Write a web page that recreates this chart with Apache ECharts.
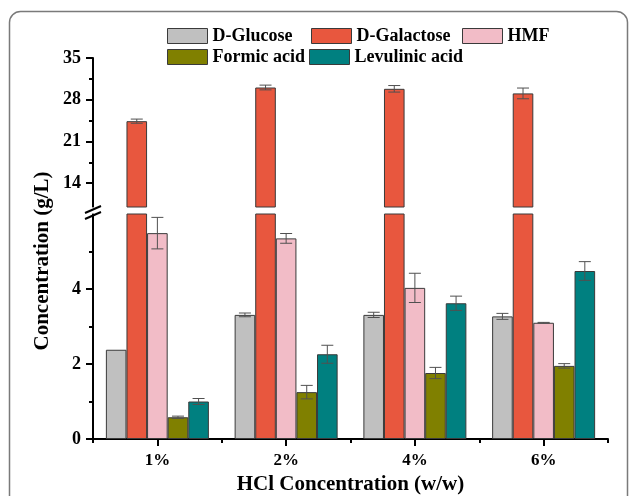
<!DOCTYPE html>
<html><head><meta charset="utf-8">
<script src="https://cdn.jsdelivr.net/npm/echarts@6/dist/echarts.min.js"></script>
<style>html,body{margin:0;padding:0;background:#fff}#c{width:630px;height:496px}</style>
</head><body><div id="c"></div>
<script>
// ---------- data ----------
const categories = ['1%', '2%', '4%', '6%'];
const seriesNames = ['D-Glucose', 'D-Galactose', 'HMF', 'Formic acid', 'Levulinic acid'];
const glucose      = [2.38, 3.31, 3.31, 3.27];
const glucoseErr   = [0, 0.05, 0.07, 0.08];
const galactose    = [24.4, 30.05, 29.83, 29.06];
const galactoseErr = [0.35, 0.4, 0.55, 0.9];
const hmf          = [5.49, 5.35, 4.03, 3.10];
const hmfErr       = [0.42, 0.13, 0.39, 0.01];
const formic       = [0.58, 1.25, 1.76, 1.95];
const formicErr    = [0.03, 0.18, 0.15, 0.06];
const levulinic    = [1.0, 2.26, 3.62, 4.48];
const levulinicErr = [0.08, 0.24, 0.19, 0.25];
const lowerTicks = [0, 2, 4];
const lowerMinorTicks = [1, 3, 5];
const upperTicks = [14, 21, 28, 35];
const upperMinorTicks = [17.5, 24.5, 31.5];
const xTitle = 'HCl Concentration (w/w)';
const yTitle = 'Concentration (g/L)';

// ---------- styling ----------
const values = [glucose, galactose, hmf, formic, levulinic];
const errors = [glucoseErr, galactoseErr, hmfErr, formicErr, levulinicErr];
const colors = ['#c0c0c0', '#e8573e', '#f2bcc7', '#808000', '#008080'];
const FONT = '"Liberation Serif", "Times New Roman", serif';
const CAT_GAP = 0.2;

const chart = echarts.init(document.getElementById('c'), null, {renderer: 'canvas'});

function errRender(idx) {
  return function (params, api) {
    const ci = api.value(0), v = api.value(1), e = api.value(2);
    if (!e) return null;
    const band = api.size([1, 0])[0];
    const groupW = band * (1 - CAT_GAP);
    const barW = groupW / 5;
    const c = api.coord([ci, v]);
    const x = c[0] - groupW / 2 + barW * (idx + 0.5);
    const hi = api.coord([ci, v + e])[1];
    const lo = api.coord([ci, v - e])[1];
    const cap = 6;
    const st = {stroke: '#505050', lineWidth: 1};
    return {type: 'group', children: [
      {type: 'line', shape: {x1: x, y1: hi, x2: x, y2: lo}, style: st},
      {type: 'line', shape: {x1: x - cap, y1: hi, x2: x + cap, y2: hi}, style: st},
      {type: 'line', shape: {x1: x - cap, y1: lo, x2: x + cap, y2: lo}, style: st}
    ]};
  };
}

const series = [];
// grid 0 (upper, 10-35) uses xAxis 0 / yAxis 0; grid 1 (lower, 0-6) uses xAxis 1 / yAxis 2
[[0, 0], [1, 2]].forEach(([xi, yi]) => {
  seriesNames.forEach((name, i) => {
    series.push({
      type: 'bar', name: name, xAxisIndex: xi, yAxisIndex: yi,
      data: values[i], barGap: '0%', barCategoryGap: (CAT_GAP * 100) + '%',
      clip: true, silent: true,
      itemStyle: {color: colors[i], borderColor: '#3a3a3a', borderWidth: 1}
    });
  });
});
seriesNames.forEach((name, i) => {
  const isUpper = i === 1;
  series.push({
    type: 'custom', name: name + ' err', xAxisIndex: isUpper ? 0 : 1, yAxisIndex: isUpper ? 0 : 2,
    renderItem: errRender(i), z: 10, silent: true, clip: false,
    data: values[i].map((v, k) => [k, v, errors[i][k]])
  });
});

const legendPos = [[167, 27], [311, 27], [462, 27], [167, 48], [309, 48]];
const legends = seriesNames.map((n, i) => ({
  data: [n], left: legendPos[i][0], top: legendPos[i][1], padding: 0,
  icon: 'rect', itemWidth: 40, itemHeight: 15, itemGap: 0, selectedMode: false,
  itemStyle: {borderColor: '#3a3a3a', borderWidth: 1},
  textStyle: {fontFamily: FONT, fontWeight: 'bold', fontSize: 18, color: '#000', padding: [0, 0, 0, 0]}
}));

const axisLine = {show: true, lineStyle: {color: '#000', width: 2}};
const labelStyle = {fontFamily: FONT, fontWeight: 'bold', fontSize: 17, color: '#000'};
const yLabelStyle = {fontFamily: FONT, fontWeight: 'bold', fontSize: 18, color: '#000'};

chart.setOption({
  animation: false,
  backgroundColor: '#fff',
  legend: legends,
  grid: [
    {left: 93, right: 22, top: 58, height: 149},
    {left: 93, right: 22, top: 214, height: 227}
  ],
  xAxis: [
    {type: 'category', gridIndex: 0, data: categories, show: false, position: 'bottom'},
    {type: 'category', gridIndex: 1, data: categories, position: 'bottom',
     axisLine: axisLine,
     axisTick: {show: true, alignWithLabel: false, length: 4, lineStyle: {width: 2, color: '#000'}},
     axisLabel: Object.assign({margin: 13}, labelStyle),
     name: xTitle, nameLocation: 'middle', nameGap: 35,
     nameTextStyle: {fontFamily: FONT, fontWeight: 'bold', fontSize: 21, color: '#000'}},
    {type: 'category', gridIndex: 1, data: categories, position: 'bottom',
     axisLine: {show: false}, axisLabel: {show: false},
     axisTick: {show: true, alignWithLabel: true, length: 7, lineStyle: {width: 2, color: '#000'}}}
  ],
  yAxis: [
    {type: 'value', gridIndex: 0, min: 10, max: 35, position: 'left',
     axisLine: axisLine, splitLine: {show: false},
     axisTick: {show: true, customValues: upperTicks, length: 7, lineStyle: {width: 2, color: '#000'}},
     axisLabel: Object.assign({customValues: upperTicks, margin: 12}, yLabelStyle)},
    {type: 'value', gridIndex: 0, min: 10, max: 35, position: 'left', offset: 0,
     axisLine: {show: false}, splitLine: {show: false}, axisLabel: {show: false},
     axisTick: {show: true, customValues: upperMinorTicks, length: 4, lineStyle: {width: 2, color: '#000'}}},
    {type: 'value', gridIndex: 1, min: 0, max: 6, position: 'left',
     axisLine: axisLine, splitLine: {show: false},
     axisTick: {show: true, customValues: lowerTicks, length: 7, lineStyle: {width: 2, color: '#000'}},
     axisLabel: Object.assign({customValues: lowerTicks, margin: 12}, yLabelStyle)},
    {type: 'value', gridIndex: 1, min: 0, max: 6, position: 'left', offset: 0,
     axisLine: {show: false}, splitLine: {show: false}, axisLabel: {show: false},
     axisTick: {show: true, customValues: lowerMinorTicks, length: 4, lineStyle: {width: 2, color: '#000'}}}
  ],
  graphic: [
    {type: 'rect', shape: {x: 9.5, y: 11.5, width: 618, height: 530, r: 11}, z: -10,
     style: {fill: 'none', stroke: '#7a7a7a', lineWidth: 1.5}},
    {type: 'text', x: 43, y: 261, rotation: Math.PI / 2, z: 5,
     style: {text: yTitle, fontFamily: FONT, fontWeight: 'bold', fontSize: 21, fill: '#000',
             align: 'center', verticalAlign: 'middle'}},
    {type: 'rect', shape: {x: 86, y: 207.5, width: 14, height: 6}, z: 5, style: {fill: '#fff'}},
    {type: 'line', shape: {x1: 85, y1: 213, x2: 101, y2: 206}, z: 6, style: {stroke: '#000', lineWidth: 2}},
    {type: 'line', shape: {x1: 85, y1: 219, x2: 101, y2: 212}, z: 6, style: {stroke: '#000', lineWidth: 2}}
  ],
  series: series
});
</script>
</body></html>
